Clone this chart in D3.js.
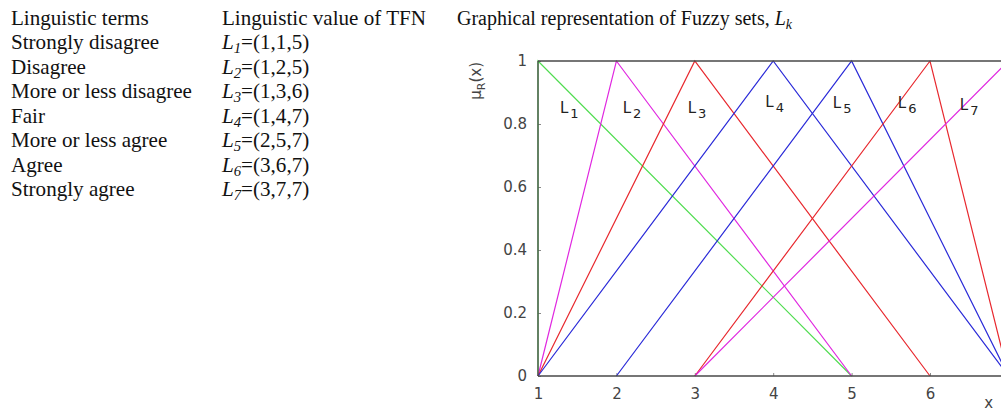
<!DOCTYPE html>
<html>
<head>
<meta charset="utf-8">
<script src="https://cdn.jsdelivr.net/npm/d3@7"></script>
<style>
  body { margin: 0; background: #fff; }
  svg { display: block; }
  .tbl { font-family: "Liberation Serif", "Times New Roman", serif; font-size: 20px; fill: #111; }
  .tick text { font-family: "DejaVu Sans", Arial, sans-serif; font-size: 15px; fill: #444; }
</style>
</head>
<body>
<div id="chart"></div>
<script>
// table data
const headers = ["Linguistic terms", "Linguistic value of TFN"];
const terms = ["Strongly disagree", "Disagree", "More or less disagree", "Fair",
  "More or less agree", "Agree", "Strongly agree"];
const tfn = [[1, 1, 5], [1, 2, 5], [1, 3, 6], [1, 4, 7], [2, 5, 7], [3, 6, 7], [3, 7, 7]];

// chart data
const xTicks = [1, 2, 3, 4, 5, 6];
const yTicks = [0, 0.2, 0.4, 0.6, 0.8, 1];
const lineColors = ["#4fdc4f", "#e028e0", "#e8282e", "#2a2ad8", "#2a2ad8", "#e8282e", "#e028e0"];
const labelX = [1.28, 2.08, 2.91, 3.9, 4.76, 5.59, 6.38];
const labelY = [0.835, 0.835, 0.835, 0.854, 0.85, 0.85, 0.845];

let W = 1001, H = 414;
let svg = d3.select("#chart").append("svg")
  .attr("width", W)
  .attr("height", H);

// ---- table on the left (text in the source is a little wider than it is tall)
let sx = 1.055;
let col1 = 11, col2 = 222, col3 = 457, row0 = 25, rowH = 24.5;
let tbl = svg.append("g").attr("transform", "scale(" + sx + ",1)");

tbl.append("text").attr("class", "tbl").attr("x", col1 / sx).attr("y", row0).text(headers[0]);
tbl.append("text").attr("class", "tbl").attr("x", col2 / sx).attr("y", row0).text(headers[1]);

tbl.selectAll(".term")
  .data(terms)
  .enter()
  .append("text")
  .attr("class", "tbl term")
  .attr("x", col1 / sx)
  .attr("y", (d, i) => row0 + (i + 1) * rowH)
  .text(d => d);

let vals = tbl.selectAll(".val")
  .data(tfn)
  .enter()
  .append("text")
  .attr("class", "tbl val")
  .attr("x", col2 / sx)
  .attr("y", (d, i) => row0 + (i + 1) * rowH);
vals.append("tspan").style("font-style", "italic").text("L");
vals.append("tspan").style("font-style", "italic").style("font-size", "14px")
  .attr("dy", 4).text((d, i) => i + 1);
vals.append("tspan").attr("dy", -4).text(d => "=(" + d.join(",") + ")");

// title of the graph
let title = svg.append("text").attr("class", "tbl").attr("x", col3).attr("y", row0);
title.append("tspan").text("Graphical representation of Fuzzy sets, ");
title.append("tspan").style("font-style", "italic").text("L");
title.append("tspan").style("font-style", "italic").style("font-size", "14px").attr("dy", 4).text("k");

// ---- chart
let margin = {top: 61, left: 538, bottom: 38};
let x = d3.scaleLinear().domain([1, 7]).range([margin.left, margin.left + 6 * 78.4]);
let y = d3.scaleLinear().domain([0, 1]).range([H - margin.bottom, margin.top]);

let axisColor = "#4a4a4a";

let gx = svg.append("g")
  .attr("transform", "translate(0," + y(0) + ")")
  .call(d3.axisBottom(x).tickValues(xTicks).tickSize(-3).tickPadding(12).tickFormat(d3.format("d")));
let gy = svg.append("g")
  .attr("transform", "translate(" + x(1) + ",0)")
  .call(d3.axisLeft(y).tickValues(yTicks).tickSize(-3).tickPadding(11)
    .tickFormat(d => d === 0 || d === 1 ? d : d3.format(".1f")(d)));
[gx, gy].forEach(g => {
  g.select(".domain").remove();
  g.selectAll(".tick line").attr("stroke", "#888");
});

let line = d3.line().x(d => x(d[0])).y(d => y(d[1]));

svg.append("g").selectAll("path")
  .data(tfn)
  .enter()
  .append("path")
  .attr("d", d => line([[d[0], 0], [d[1], 1], [d[2], 0]]))
  .attr("fill", "none")
  .attr("stroke", (d, i) => lineColors[i])
  .attr("stroke-width", 1.2);

// box drawn over the lines
svg.append("path")
  .attr("d", `M${x(1)},${y(0)}H${x(7)}M${x(1)},${y(1)}H${x(7)}M${x(1)},${y(0)}V${y(1)}`)
  .attr("fill", "none")
  .attr("stroke", axisColor)
  .attr("stroke-width", 1.3);

// set labels L1..L7
let lbl = svg.append("g").selectAll("text")
  .data(tfn)
  .enter()
  .append("text")
  .attr("x", (d, i) => x(labelX[i]))
  .attr("y", (d, i) => y(labelY[i]))
  .style("font-family", "DejaVu Sans, Arial, sans-serif")
  .style("font-size", "15px")
  .attr("fill", "#222");
lbl.append("tspan").text("L");
lbl.append("tspan").attr("dy", 5).attr("dx", 2).style("font-size", "13px").text((d, i) => i + 1);

// axis labels
let ylab = svg.append("text")
  .attr("transform", "translate(" + 481 + "," + y(0.877) + ") rotate(-90)")
  .style("font-family", "DejaVu Sans, Arial, sans-serif")
  .style("font-size", "15px")
  .attr("fill", "#444");
ylab.append("tspan").text("\u03bc");
ylab.append("tspan").attr("dy", 4).style("font-size", "11px").text("R");
ylab.append("tspan").attr("dy", -4).text("(x)");

svg.append("text")
  .attr("x", x(6.75))
  .attr("y", H - 6)
  .attr("text-anchor", "middle")
  .style("font-family", "DejaVu Sans, Arial, sans-serif")
  .style("font-size", "15px")
  .attr("fill", "#444")
  .text("x");
</script>
</body>
</html>
